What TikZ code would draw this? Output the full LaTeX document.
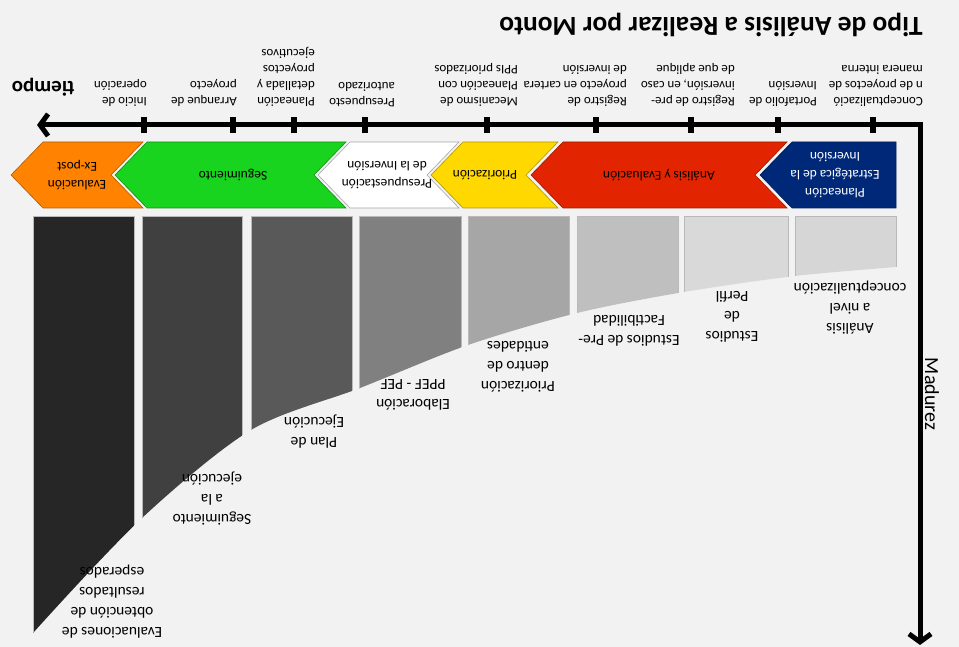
\documentclass[tikz,border=0pt]{standalone}
\usepackage{fontspec}
\setmainfont{Carlito}
\usetikzlibrary{arrows.meta}

\definecolor{canvas}{HTML}{F2F2F2}
\definecolor{planblue}{HTML}{002878}
\definecolor{evalred}{HTML}{E32400}
\definecolor{prioyellow}{HTML}{FFD800}
\definecolor{budgetwhite}{HTML}{FFFFFF}
\definecolor{followgreen}{HTML}{18D41E}
\definecolor{expostorange}{HTML}{FF8200}

\begin{document}
\begin{tikzpicture}[x=1pt, y=-1pt,
	axisline/.style = {line width=5pt, >={Straight Barb[length=8pt,width=22pt]}, <->},
	tickmark/.style = {rectangle, fill=black, inner sep=0pt, minimum width=6pt, minimum height=16pt},
	ticklabel/.style = {rotate=180, anchor=north west, align=left, inner sep=0pt, font=\fontsize{13}{16}\selectfont},
	stage/.style = {fill=#1, draw=#1!70!black, line width=0.6pt},
	stagetext/.style = {rotate=180, align=center, inner sep=0pt, font=\fontsize{13.5}{18}\selectfont},
	bar/.style = {fill=#1, draw=gray!55, line width=0.5pt},
	barlabel/.style = {rotate=180, align=center, inner sep=0pt, font=\fontsize{15.5}{20}\selectfont},
]
\useasboundingbox (0,0) rectangle (959,647);
\fill[canvas] (0,0) rectangle (959,647);

% title and axis names
\node[rotate=180, font=\fontsize{27.5}{30}\selectfont\bfseries] (title) at (711,25) {Tipo de Análisis a Realizar por Monto};
\node[rotate=180, font=\fontsize{21}{24}\selectfont\bfseries] (tiempo) at (43,87) {tiempo};
\node[rotate=-90, font=\fontsize{20}{24}\selectfont] (madurez) at (932,394) {Madurez};

% axes
\coordinate (corner) at (920,125);
\coordinate (time-end) at (37,125);
\coordinate (mat-end) at (920,645);
\draw[axisline] (time-end) -- (corner) -- (mat-end);

% milestones on the time axis
\node[tickmark] (t-concept) at (873,125) {};
\node[tickmark] (t-portafolio) at (778,125) {};
\node[tickmark] (t-preinv) at (691,125) {};
\node[tickmark] (t-cartera) at (596,125) {};
\node[tickmark] (t-mecanismo) at (487,125) {};
\node[tickmark] (t-presupuesto) at (365,125) {};
\node[tickmark] (t-detalle) at (294,125) {};
\node[tickmark] (t-arranque) at (233,125) {};
\node[tickmark] (t-inicio) at (144,125) {};

\node[ticklabel] (l-concept) at (923,107) {Conceptualizació\\n de proyectos de\\manera interna};
\node[ticklabel] (l-portafolio) at (817,107) {Portafolio de\\Inversión};
\node[ticklabel] (l-preinv) at (735,107) {Registro de pre-\\inversión, en caso\\de que aplique};
\node[ticklabel] (l-cartera) at (627,107) {Registro de\\proyecto en cartera\\de inversión};
\node[ticklabel] (l-mecanismo) at (518,107) {Mecanismo de\\Planeación con\\PPIs priorizados};
\node[ticklabel] (l-presupuesto) at (395,107) {Presupuesto\\autorizado};
\node[ticklabel] (l-detalle) at (315,107) {Planeación\\detallada y\\proyectos\\ejecutivos};
\node[ticklabel] (l-arranque) at (237,107) {Arranque de\\proyecto};
\node[ticklabel] (l-inicio) at (147,107) {Inicio de\\operación};

% stages
\draw[stage=planblue] (896,142) -- (792,142) -- (760,175) -- (792,208) -- (896,208) -- cycle;
\draw[stage=evalred] (787,142) -- (563,142) -- (531,175) -- (563,208) -- (787,208) -- (755,175) -- cycle;
\draw[stage=prioyellow] (558,142) -- (463,142) -- (431,175) -- (463,208) -- (558,208) -- (526,175) -- cycle;
\draw[stage=budgetwhite, draw=gray!70] (459,142) -- (350,142) -- (318,175) -- (350,208) -- (459,208) -- (427,175) -- cycle;
\draw[stage=followgreen] (346,142) -- (147,142) -- (115,175) -- (147,208) -- (346,208) -- (314,175) -- cycle;
\draw[stage=expostorange] (143,142) -- (43,142) -- (11,175) -- (43,208) -- (143,208) -- (111,175) -- cycle;

\node[stagetext, text=white] (s-plan) at (835,175) {Planeación\\Estratégica de la\\Inversión};
\node[stagetext] (s-eval) at (659,175) {Análisis y Evaluación};
\node[stagetext] (s-prio) at (485,175) {Priorización};
\node[stagetext] (s-budget) at (387,175) {Presupuestación\\de la Inversión};
\node[stagetext] (s-follow) at (233,175) {Seguimiento};
\node[stagetext] (s-expost) at (77,175) {Evaluación\\Ex-post};

% maturity bars, cut by the curve
\begin{scope}
\clip (20,210) -- (905,210) -- plot[smooth] coordinates {(905,266) (896,267) (795,276) (684,292) (577,313) (468,345) (360,388) (251,430) (142,518) (33,633) (28,645)} -- (20,645) -- cycle;
\draw[bar=black!16] (795,216) rectangle (896,660);
\draw[bar=black!15] (684,216) rectangle (788,660);
\draw[bar=black!25] (577,216) rectangle (678,660);
\draw[bar=black!35] (468,216) rectangle (569,660);
\draw[bar=black!50] (359,216) rectangle (461,660);
\draw[bar=black!65] (251,216) rectangle (352,660);
\draw[bar=black!75] (142,216) rectangle (242,660);
\draw[bar=black!85] (33,216) rectangle (134,660);
\end{scope}

\node[barlabel] (b-concept) at (850,308) {Análisis\\a nivel\\conceptualización};
\node[barlabel] (b-perfil) at (732,317) {Estudios\\de\\Perfil};
\node[barlabel] (b-prefact) at (629,331) {Estudios de Pre-\\Factibilidad};
\node[barlabel] (b-prio) at (518,367) {Priorización\\dentro de\\entidades};
\node[barlabel] (b-ppef) at (413,395) {Elaboración\\PPEF - PEF};
\node[barlabel] (b-plan) at (314,432) {Plan de\\Ejecución};
\node[barlabel] (b-seguim) at (212,499) {Seguimiento\\a la\\ejecución};
\node[barlabel] (b-eval) at (112,602) {Evaluaciones de\\obtención de\\resultados\\esperados};
\end{tikzpicture}
\end{document}
